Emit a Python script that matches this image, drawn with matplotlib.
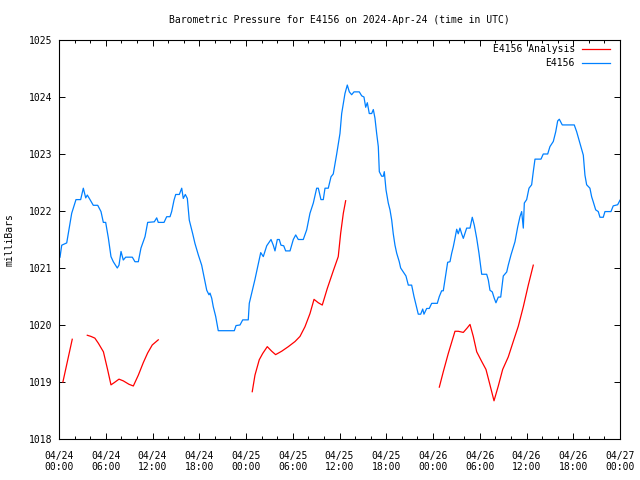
import numpy as np
import matplotlib
matplotlib.use("Agg")
import matplotlib.pyplot as plt
from matplotlib.lines import Line2D

# ---- data (hours since 2024-04-24 00:00 UTC, pressure in mb) ----
obs_hours = [0.13, 0.35, 0.99, 1.63, 2.18, 2.78, 3.12, 3.43, 3.63, 3.98, 4.40, 4.97, 5.39, 5.69, 5.99,
             6.33, 6.67, 6.97, 7.48, 7.70, 7.96, 8.25, 8.56, 9.41, 9.75, 10.18, 10.52, 11.04, 11.38,
             12.23, 12.54, 12.74, 13.48, 13.82, 14.25, 14.46, 14.76, 14.98, 15.44, 15.75, 15.95, 16.21,
             16.47, 16.72, 17.16, 17.45, 17.88, 18.31, 18.65, 18.96, 19.25, 19.38, 19.60, 19.80, 20.11,
             20.44, 22.50, 22.72, 23.23, 23.58, 24.29, 24.42, 25.15, 25.50, 25.89, 26.22, 26.66, 27.21,
             27.50, 27.72, 28.02, 28.27, 28.49, 28.84, 29.09, 29.65, 30.07, 30.38, 30.71, 31.35, 31.79,
             32.21, 32.64, 33.07, 33.28, 33.62, 33.92, 34.14, 34.56, 34.91, 35.20, 35.64, 36.06, 36.28,
             36.61, 36.70, 37.00, 37.26, 37.56, 37.86, 38.54, 38.85, 39.14, 39.36, 39.57, 39.82, 40.13,
             40.34, 40.55, 40.77, 40.98, 41.11, 41.41, 41.62, 41.75, 41.97, 42.26, 42.48, 42.70, 42.90,
             43.12, 43.34, 43.67, 43.85, 44.19, 44.53, 44.83, 45.26, 45.56, 45.82, 46.11, 46.42, 46.68,
             46.84, 47.19, 47.52, 47.83, 48.55, 48.81, 48.90, 49.11, 49.32, 49.63, 49.88, 50.18, 50.40,
             50.60, 50.82, 51.04, 51.24, 51.46, 51.68, 51.89, 52.32, 52.75, 53.04, 53.30, 53.61, 53.90,
             54.25, 54.89, 55.10, 55.31, 55.61, 55.86, 56.08, 56.38, 56.69, 57.02, 57.46, 57.66, 58.01,
             58.52, 58.87, 59.16, 59.38, 59.59, 59.72, 60.02, 60.32, 60.66, 60.87, 61.09, 61.86, 62.15,
             62.72, 63.01, 63.44, 63.75, 64.00, 64.21, 64.59, 66.13, 66.44, 66.86, 67.29, 67.50, 67.72,
             68.14, 68.36, 68.57, 68.88, 69.21, 69.43, 69.85, 70.07, 70.84, 71.13, 71.70, 72.00]
obs_mb = [1021.19, 1021.40, 1021.44, 1021.96, 1022.20, 1022.20, 1022.40, 1022.23, 1022.28, 1022.20,
          1022.10, 1022.10, 1021.99, 1021.80, 1021.80, 1021.53, 1021.20, 1021.11, 1021.00, 1021.05,
          1021.29, 1021.14, 1021.19, 1021.19, 1021.11, 1021.11, 1021.35, 1021.55, 1021.80, 1021.81,
          1021.88, 1021.80, 1021.80, 1021.90, 1021.90, 1021.99, 1022.19, 1022.29, 1022.29, 1022.40,
          1022.22, 1022.29, 1022.22, 1021.84, 1021.60, 1021.43, 1021.23, 1021.05, 1020.82, 1020.61,
          1020.53, 1020.56, 1020.47, 1020.32, 1020.15, 1019.90, 1019.90, 1019.99, 1020.00, 1020.09,
          1020.09, 1020.38, 1020.80, 1021.02, 1021.27, 1021.20, 1021.39, 1021.50, 1021.40, 1021.30,
          1021.50, 1021.50, 1021.40, 1021.39, 1021.30, 1021.30, 1021.50, 1021.58, 1021.50, 1021.50,
          1021.67, 1021.96, 1022.14, 1022.40, 1022.40, 1022.20, 1022.20, 1022.40, 1022.40, 1022.60,
          1022.65, 1023.00, 1023.36, 1023.71, 1023.98, 1024.06, 1024.21, 1024.09, 1024.04, 1024.09,
          1024.09, 1024.02, 1024.00, 1023.82, 1023.90, 1023.71, 1023.71, 1023.78, 1023.63, 1023.36,
          1023.13, 1022.69, 1022.61, 1022.61, 1022.69, 1022.37, 1022.14, 1022.02, 1021.84, 1021.60,
          1021.40, 1021.26, 1021.11, 1021.00, 1020.93, 1020.86, 1020.70, 1020.70, 1020.50, 1020.35,
          1020.19, 1020.19, 1020.28, 1020.19, 1020.29, 1020.29, 1020.38, 1020.38, 1020.50,
          1020.53, 1020.60, 1020.60, 1020.88, 1021.10, 1021.11, 1021.26, 1021.37, 1021.52, 1021.68,
          1021.60, 1021.70, 1021.60, 1021.52, 1021.70, 1021.70, 1021.89, 1021.75, 1021.52, 1021.26,
          1020.89, 1020.89, 1020.79, 1020.61, 1020.58, 1020.47, 1020.39, 1020.49, 1020.49, 1020.86,
          1020.93, 1021.05, 1021.23, 1021.46, 1021.72, 1021.90, 1021.99, 1021.70, 1022.14, 1022.20,
          1022.40, 1022.46, 1022.69, 1022.91, 1022.91, 1023.00, 1023.00, 1023.13, 1023.22, 1023.39,
          1023.58, 1023.61, 1023.51, 1023.51, 1023.39, 1023.19, 1022.98, 1022.63, 1022.46, 1022.40,
          1022.25, 1022.16, 1022.02, 1021.99, 1021.89, 1021.89, 1021.99, 1021.99, 1022.09, 1022.11,
          1022.19]

ana_hours = [0.5, 1.7, np.nan,
             3.63, 4.1, 4.6, 5.05, 5.7, 6.25, 6.67, 7.1, 7.7, 8.25, 8.98, 9.54, 10.18, 10.82, 11.38,
             11.97, 12.74, np.nan,
             24.8, 25.15, 25.7, 26.14, 26.73, 27.3, 27.8, 28.58, 29.43, 30.29, 30.93, 31.57, 32.21,
             32.73, 33.28, 33.79, 34.43, 35.2, 35.84, 36.15, 36.49, 36.79, np.nan,
             48.81, 49.32, 49.96, 50.82, 51.24, 51.89, 52.4, 52.75, 53.17, 53.61, 54.25, 54.8, 55.31,
             55.83, 56.38, 56.94, 57.66, 58.3, 58.95, 59.59, 60.23, 60.87]
ana_mb = [1019.0, 1019.75, np.nan,
          1019.82, 1019.80, 1019.77, 1019.68, 1019.53, 1019.21, 1018.95, 1018.99, 1019.05, 1019.02,
          1018.96, 1018.93, 1019.12, 1019.34, 1019.51, 1019.65, 1019.74, np.nan,
          1018.83, 1019.12, 1019.39, 1019.50, 1019.62, 1019.54, 1019.48, 1019.54, 1019.62, 1019.71,
          1019.80, 1019.97, 1020.20, 1020.45, 1020.39, 1020.35, 1020.64, 1020.95, 1021.20, 1021.61,
          1021.96, 1022.18, np.nan,
          1018.91, 1019.18, 1019.50, 1019.89, 1019.89, 1019.87, 1019.95, 1020.01, 1019.80, 1019.53,
          1019.36, 1019.22, 1018.95, 1018.67, 1018.93, 1019.22, 1019.44, 1019.71, 1019.98, 1020.32,
          1020.70, 1021.05]

tick_hours = [0, 6, 12, 18, 24, 30, 36, 42, 48, 54, 60, 66, 72]
tick_labels = ["04/24\n00:00", "04/24\n06:00", "04/24\n12:00", "04/24\n18:00",
               "04/25\n00:00", "04/25\n06:00", "04/25\n12:00", "04/25\n18:00",
               "04/26\n00:00", "04/26\n06:00", "04/26\n12:00", "04/26\n18:00",
               "04/27\n00:00"]
y_ticks = [1018, 1019, 1020, 1021, 1022, 1023, 1024, 1025]

title = "Barometric Pressure for E4156 on 2024-Apr-24 (time in UTC)"
label_ana = "E4156 Analysis"
label_obs = "E4156"

RED = "#ff0000"
BLUE = "#0080ff"
FONT = "DejaVu Sans Mono"
FS = 7

plt.rcParams["font.family"] = FONT
fig = plt.figure(figsize=(6.4, 4.8), dpi=100)
W, H = 640, 480
ax = fig.add_axes([59 / W, 1 - 439 / H, (620 - 59) / W, (439 - 40) / H])

ax.plot(ana_hours, ana_mb, color=RED, lw=0.9)
ax.plot(obs_hours, obs_mb, color=BLUE, lw=0.9)

ax.set_xlim(0, 72)
ax.set_ylim(1018, 1025)
ax.set_xticks(tick_hours)
ax.set_xticklabels(tick_labels, fontsize=FS, linespacing=1.15)
ax.set_xticks(np.arange(0, 73, 2), minor=True)
ax.set_yticks(y_ticks)
ax.set_yticklabels([str(v) for v in y_ticks], fontsize=FS)
ax.tick_params(which="both", direction="in", top=True, right=True, color="black", width=0.7)
ax.tick_params(which="major", length=4)
ax.tick_params(which="minor", length=2.2)
ax.tick_params(axis="x", which="major", pad=8.5)
ax.tick_params(axis="y", which="major", pad=5)
for s in ax.spines.values():
    s.set_linewidth(0.8)
    s.set_color("black")

fig.text(0.5 * (59 + 620) / W, 1 - 20 / H, title, ha="center", va="center", fontsize=FS)
fig.text(10 / W, 1 - 240 / H, "milliBars", rotation=90, ha="center", va="center", fontsize=FS)

# legend (gnuplot style: right-aligned text followed by line sample)
for i, (lab, col) in enumerate([(label_ana, RED), (label_obs, BLUE)]):
    yy = 1 - (49 + 14 * i) / H
    fig.text(575 / W, yy, lab, ha="right", va="center", fontsize=FS)
    fig.add_artist(Line2D([582 / W, 610 / W], [yy, yy], color=col, lw=0.9,
                          transform=fig.transFigure))

fig.savefig("out.png", dpi=100)
